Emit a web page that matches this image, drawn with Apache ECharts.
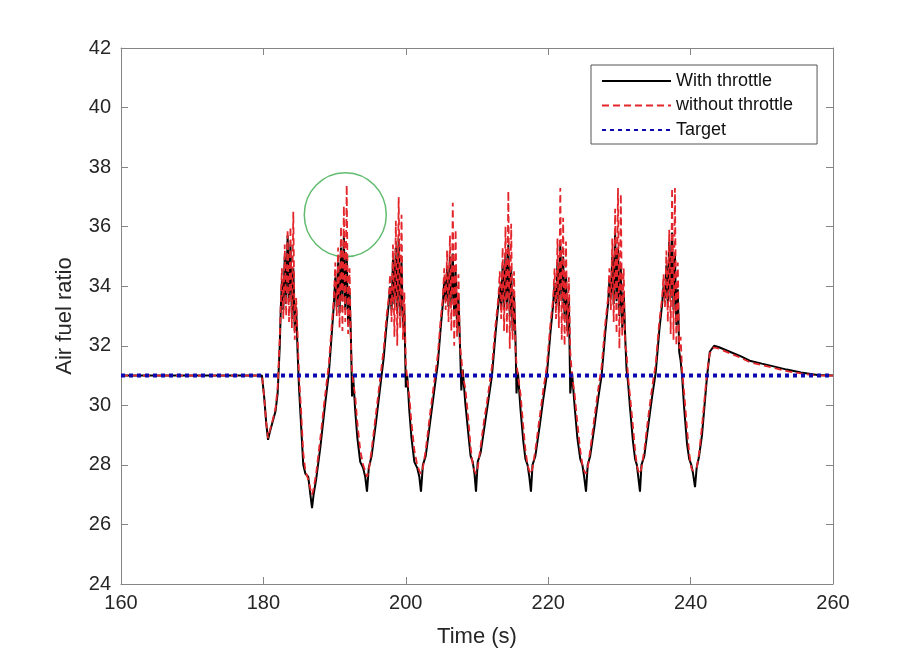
<!DOCTYPE html>
<html><head><meta charset="utf-8">
<script src="https://cdn.jsdelivr.net/npm/echarts@6/dist/echarts.min.js"></script>
<style>html,body{margin:0;padding:0;background:#fff}#c{width:921px;height:653px}</style>
</head><body><div id="c"></div>
<script>
// ---- data ----
const time = [
  160, 170, 179.8, 180.1, 180.4, 180.65, 180.9, 181.3, 181.7, 182.0, 182.3, 182.45,
  182.6, 182.8, 183.0, 183.2, 183.4, 183.6, 183.8, 184.0, 184.2, 184.4, 184.6,
  184.8, 185.0, 185.3, 185.6, 185.9, 186.3, 186.6, 186.83, 187.05, 187.4, 188.0, 188.6, 189.2, 189.6, 189.9,
  190.1, 190.3, 190.5, 190.7, 190.9, 191.1, 191.3, 191.5, 191.7, 191.9, 192.1, 192.3,
  192.45, 192.6, 192.9, 193.2, 193.6, 194.0, 194.3, 194.55, 194.8, 195.2, 195.8, 196.4, 196.9, 197.3, 197.6,
  197.8, 198.0, 198.2, 198.4, 198.6, 198.8, 199.0, 199.2, 199.4, 199.6, 199.8,
  200.0, 200.2, 200.5, 200.8, 201.2, 201.6, 201.9, 202.13, 202.4, 202.8, 203.4, 204.0, 204.5, 204.9, 205.2,
  205.4, 205.6, 205.8, 206.0, 206.2, 206.4, 206.6, 206.8, 207.0, 207.2, 207.4, 207.6,
  207.8, 208.0, 208.35, 208.8, 209.1, 209.4, 209.65, 209.86, 210.1, 210.5, 211.0, 211.4, 212.1, 212.6, 213.0,
  213.2, 213.4, 213.6, 213.8, 214.0, 214.2, 214.4, 214.6, 214.8, 215.0, 215.2, 215.4,
  215.55, 215.75, 216.1, 216.5, 216.8, 217.1, 217.35, 217.58, 217.8, 218.2, 218.8, 219.3, 219.8, 220.3, 220.7,
  220.9, 221.1, 221.3, 221.5, 221.7, 221.9, 222.1, 222.3, 222.5, 222.7, 222.9,
  223.1, 223.35, 223.7, 224.1, 224.5, 224.8, 225.05, 225.31, 225.55, 225.9, 226.5, 227.0, 227.5, 228.0, 228.4,
  228.6, 228.8, 229.0, 229.2, 229.4, 229.6, 229.8, 230.0, 230.2, 230.4, 230.6, 230.8,
  231.0, 231.2, 231.5, 231.9, 232.2, 232.45, 232.65, 232.89, 233.1, 233.5, 234.1, 234.6, 235.1, 235.6, 236.0,
  236.2, 236.4, 236.6, 236.8, 237.0, 237.2, 237.4, 237.6, 237.8, 238.0, 238.2, 238.4,
  238.6, 238.8, 239.1, 239.5, 239.8, 240.1, 240.35, 240.62, 240.85, 241.2, 241.6, 242.3, 242.7, 243.3, 244.0, 245.5, 247.0, 248.3, 250.0, 251.8, 253.5, 255.5, 257.8, 260.0
];

const withThrottle = [
  31, 31, 31, 30.3, 29.4, 28.84, 29.1, 29.45, 29.8, 30.4, 32.0, 33.3,
  34.2, 33.2, 35.0, 33.4, 35.7, 33.6, 35.4, 32.9, 34.6, 32.5, 33.3,
  31.8, 30.6, 29.3, 28.0, 27.7, 27.6, 27.0, 26.55, 27.0, 27.5, 28.6, 29.9, 31.1, 32.4, 33.4,
  34.3, 33.3, 34.8, 33.1, 35.3, 33.5, 35.7, 33.2, 35.1, 32.7, 33.8, 32.2,
  30.3, 31.0, 29.8, 28.9, 28.1, 27.9, 27.6, 27.1, 27.9, 28.3, 29.4, 30.6, 31.6, 32.7, 33.4,
  34.0, 33.2, 34.9, 33.4, 35.3, 33.1, 35.6, 33.0, 34.8, 32.6, 33.2,
  30.6, 31.0, 29.8, 28.9, 28.1, 27.9, 27.6, 27.1, 28.0, 28.3, 29.4, 30.5, 31.4, 32.6, 33.4,
  34.2, 33.5, 34.6, 33.3, 35.0, 33.4, 35.1, 33.0, 34.5, 32.6, 33.6, 32.1,
  30.5, 31.2, 30.1, 29.0, 28.3, 28.1, 27.7, 27.1, 28.1, 28.4, 29.2, 29.85, 31.0, 32.4, 33.4,
  34.0, 33.3, 34.7, 33.2, 35.1, 33.4, 35.4, 33.0, 34.6, 32.5, 33.7, 32.3,
  30.4, 31.1, 29.9, 28.8, 28.2, 28.0, 27.6, 27.1, 28.0, 28.3, 29.3, 30.2, 31.0, 32.4, 33.4,
  34.1, 33.4, 34.8, 33.2, 35.4, 33.5, 35.0, 32.9, 34.4, 32.5, 33.5,
  30.4, 31.1, 30.0, 28.9, 28.2, 28.0, 27.6, 27.1, 28.0, 28.3, 29.3, 30.2, 31.0, 32.4, 33.4,
  34.2, 33.6, 35.0, 33.4, 35.8, 33.5, 35.3, 33.0, 34.6, 32.6, 33.8, 32.4,
  31.2, 30.8, 29.9, 28.8, 28.2, 28.0, 27.6, 27.1, 28.0, 28.3, 29.4, 30.3, 31.1, 32.5, 33.4,
  34.0, 33.6, 34.7, 33.4, 35.5, 33.6, 35.8, 33.2, 35.1, 32.7, 33.9, 31.8,
  31.5, 31.0, 29.9, 28.7, 28.2, 28.0, 27.7, 27.25, 27.9, 28.3, 29.0, 30.95, 31.8, 32.0, 31.95, 31.8, 31.65, 31.5, 31.4, 31.3, 31.2, 31.1, 31.02, 31.0
];

const withoutThrottle = [
  31, 31, 31, 30.3, 29.4, 28.9, 29.15, 29.5, 29.9, 30.6, 32.3, 33.5,
  34.6, 32.9, 35.4, 33.0, 35.9, 32.8, 36.0, 32.6, 36.5, 32.2, 33.6,
  32.4, 31.0, 29.8, 28.4, 27.8, 27.5, 27.2, 27.0, 27.2, 27.7, 28.9, 30.2, 31.4, 32.7, 33.6,
  34.8, 33.0, 35.3, 32.6, 36.0, 32.5, 36.7, 32.8, 37.4, 32.4, 34.6, 32.0,
  31.2, 30.8, 30.3, 29.4, 28.5, 28.0, 27.8, 27.6, 27.8, 28.5, 29.7, 30.9, 31.9, 33.0, 33.6,
  34.4, 32.8, 35.4, 32.3, 36.2, 32.0, 37.0, 32.6, 36.4, 32.2, 33.8,
  31.4, 30.9, 30.3, 29.4, 28.5, 28.0, 27.8, 27.7, 27.9, 28.5, 29.7, 30.8, 31.7, 32.9, 33.6,
  34.6, 33.2, 35.2, 32.8, 35.7, 32.5, 36.8, 32.0, 35.9, 32.3, 34.4, 32.0,
  31.6, 31.0, 30.6, 29.5, 28.6, 28.0, 27.8, 27.7, 27.9, 28.6, 29.5, 30.1, 31.3, 32.7, 33.6,
  34.5, 32.9, 35.3, 32.5, 36.0, 32.4, 37.2, 31.9, 36.1, 32.2, 34.5, 31.9,
  31.4, 31.0, 30.4, 29.3, 28.5, 28.0, 27.8, 27.7, 27.9, 28.5, 29.6, 30.5, 31.3, 32.7, 33.6,
  34.6, 32.9, 35.6, 32.6, 37.3, 32.2, 36.3, 32.0, 35.5, 32.3, 34.3,
  31.8, 31.0, 30.4, 29.4, 28.5, 28.0, 27.8, 27.7, 27.9, 28.5, 29.6, 30.5, 31.3, 32.7, 33.6,
  34.6, 33.2, 35.6, 32.8, 36.6, 32.4, 37.3, 31.9, 37.1, 32.3, 34.6, 32.0,
  31.8, 31.0, 30.3, 29.3, 28.5, 28.0, 27.8, 27.7, 27.9, 28.5, 29.7, 30.6, 31.4, 32.8, 33.6,
  34.4, 33.3, 35.2, 32.8, 35.9, 32.4, 37.3, 32.2, 37.3, 32.0, 34.8, 31.9,
  32.3, 31.2, 30.4, 29.2, 28.4, 27.9, 27.8, 27.8, 27.9, 28.4, 29.3, 31.1, 31.75, 31.95, 31.9, 31.75, 31.6, 31.45, 31.35, 31.25, 31.15, 31.07, 31.0, 31.0
];

const targetTime = [160, 260];
const targetValue = [31, 31];

const xTickValues = [160, 180, 200, 220, 240, 260];
const yTickValues = [24, 26, 28, 30, 32, 34, 36, 38, 40, 42];

const seriesNames = ['With throttle', 'without throttle', 'Target'];
const annotationCircle = [[191.5, 36.4]];

// ---- build ----
function pairs(xs, ys) {
  const n = Math.min(xs.length, ys.length);
  const out = [];
  for (let i = 0; i < n; i++) out.push([xs[i], ys[i]]);
  return out;
}

const FONT = 'Liberation Sans, Arial, sans-serif';
const axisGray = '#858585';
const xMin = xTickValues[0], xMax = xTickValues[xTickValues.length - 1];
const yMin = yTickValues[0], yMax = yTickValues[yTickValues.length - 1];
const xStep = xTickValues[1] - xTickValues[0];
const yStep = yTickValues[1] - yTickValues[0];

function xAxisCfg(pos, showLabel) {
  return {
    type: 'value', position: pos, min: xMin, max: xMax, interval: xStep,
    name: showLabel ? 'Time (s)' : '', nameLocation: 'middle', nameGap: 42,
    nameTextStyle: { fontFamily: FONT, fontSize: 22, color: '#262626' },
    axisLine: { show: true, onZero: false, lineStyle: { color: axisGray, width: 1 } },
    axisTick: { show: true, inside: true, length: 7, lineStyle: { color: axisGray } },
    axisLabel: { show: showLabel, margin: 9, fontFamily: FONT, fontSize: 20, color: '#262626' },
    splitLine: { show: false }
  };
}
function yAxisCfg(pos, showLabel) {
  return {
    type: 'value', position: pos, min: yMin, max: yMax, interval: yStep,
    name: showLabel ? 'Air fuel ratio' : '', nameLocation: 'middle', nameGap: 45,
    nameTextStyle: { fontFamily: FONT, fontSize: 22, color: '#262626' },
    axisLine: { show: true, onZero: false, lineStyle: { color: axisGray, width: 1 } },
    axisTick: { show: true, inside: true, length: 7, lineStyle: { color: axisGray } },
    axisLabel: { show: showLabel, margin: 10, fontFamily: FONT, fontSize: 20, color: '#262626' },
    splitLine: { show: false }
  };
}

const chart = echarts.init(document.getElementById('c'), null, { renderer: 'canvas' });
chart.setOption({
  animation: false,
  backgroundColor: '#ffffff',
  grid: { left: 121, right: 88, top: 48, bottom: 69, containLabel: false, outerBoundsMode: 'none' },
  xAxis: [xAxisCfg('bottom', true), xAxisCfg('top', false)],
  yAxis: [yAxisCfg('left', true), yAxisCfg('right', false)],
  legend: {
    data: seriesNames,
    orient: 'vertical',
    left: 591, top: 65,
    itemWidth: 69, itemHeight: 14, itemGap: 6.5,
    padding: [7, 24, 5, 10],
    borderColor: '#555', borderWidth: 1,
    backgroundColor: '#fff',
    selectedMode: false,
    itemStyle: { opacity: 0 },
    textStyle: { fontFamily: FONT, fontSize: 18, color: '#111' }
  },
  series: [
    {
      name: 'annotation', type: 'scatter', data: annotationCircle,
      symbol: 'circle', symbolSize: [82, 84], silent: true, z: 1,
      itemStyle: { color: 'rgba(0,0,0,0)', borderColor: '#3aaa4a', borderWidth: 1.5 }
    },
    {
      name: seriesNames[0], type: 'line', data: pairs(time, withThrottle),
      symbol: 'none', showSymbol: false, z: 2, silent: true,
      lineStyle: { color: '#000000', width: 2 }, itemStyle: { color: '#000000' }
    },
    {
      name: seriesNames[1], type: 'line', data: pairs(time, withoutThrottle),
      symbol: 'none', showSymbol: false, z: 3, silent: true,
      lineStyle: { color: '#e3262b', width: 1.8, type: [7, 4] }, itemStyle: { color: '#e3262b' }
    },
    {
      name: seriesNames[2], type: 'line', data: pairs(targetTime, targetValue),
      symbol: 'none', showSymbol: false, z: 4, silent: true,
      lineStyle: { color: '#0a0ab0', width: 4, type: [4, 4], cap: 'butt' }, itemStyle: { color: '#0a0ab0' }
    }
  ]
});
</script>
</body></html>
